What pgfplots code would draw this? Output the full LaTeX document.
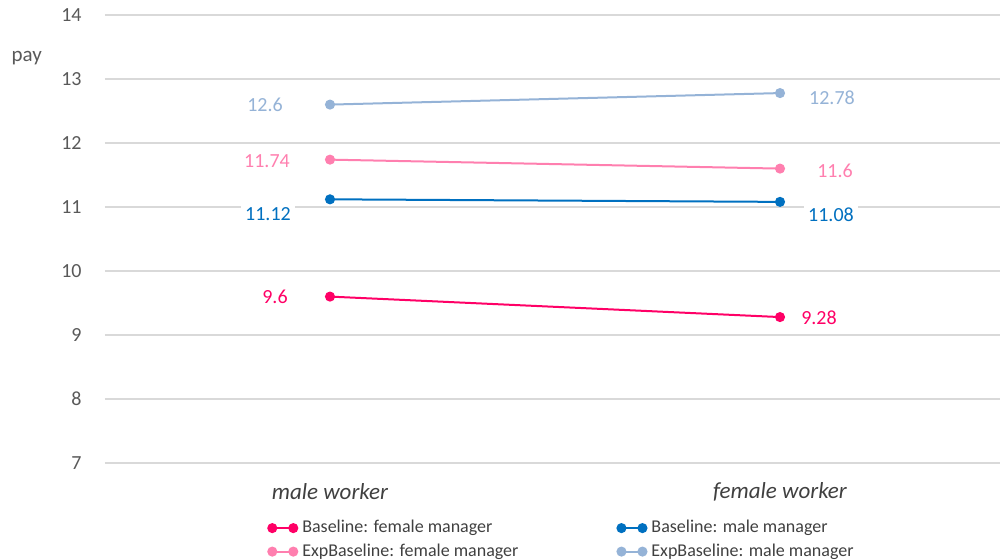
\documentclass[border=0pt]{standalone}
\usepackage{pgfplots}
\pgfplotsset{compat=1.18}
\usepackage{fontspec}
\setmainfont{Carlito}
\definecolor{bf}{HTML}{FF0066}
\definecolor{bm}{HTML}{0070C0}
\definecolor{ef}{HTML}{FF7FAF}
\definecolor{em}{HTML}{95B3D7}
\definecolor{txt}{HTML}{595959}
\definecolor{grd}{HTML}{D9D9D9}
\tikzset{lbl/.style={fill=white, inner sep=2pt, anchor=center, font=\fontsize{10}{12}\selectfont}}
\begin{document}
\begin{tikzpicture}
\useasboundingbox (-52.5pt,-48.5pt) rectangle (447.5pt,231.5pt);
\begin{axis}[
scale only axis, width=450pt, height=224pt,
at={(0,0)}, anchor=south west,
xmin=-0.5, xmax=1.5, ymin=7, ymax=14,
xtick={0,1}, xticklabels={\textit{male worker},\textit{female worker}},
ytick={7,...,14},
ymajorgrids, grid style={grd, line width=0.6pt},
axis line style={draw=none},
major tick length=0pt,
tick label style={font=\fontsize{10}{12}\selectfont, text=txt},
xticklabel style={anchor=center, yshift=-14.5pt, font=\fontsize{11.5}{13}\selectfont, text=black!75},
yticklabel style={anchor=east, inner sep=0pt, xshift=-11.5pt},
/pgf/number format/assume math mode=true,
ylabel=pay,
every axis y label/.style={at={(axis description cs:-0.087,0.904)}, anchor=center, font=\fontsize{10.5}{12}\selectfont, text=txt},
every axis plot/.append style={line width=1pt, mark=*, mark size=2pt},
legend columns=2,
legend cell align=left,
legend style={at={(axis description cs:0.181,-0.116)}, anchor=north west, draw=none, fill=none, inner sep=0pt,
  font=\fontsize{9}{10}\selectfont, text=black!75,
  nodes={inner sep=2.5pt},
  /tikz/every even column/.append style={column sep=47pt}, row sep=-1pt},
legend image code/.code={\draw[#1] plot coordinates {(0pt,0pt) (10.5pt,0pt)};},
]
\addplot[color=bf, mark options={fill=bf}] coordinates {(0,9.6) (1,9.28)};
\addlegendentry{Baseline: female manager}
\addplot[color=bm, mark options={fill=bm}] coordinates {(0,11.12) (1,11.08)};
\addlegendentry{Baseline: male manager}
\addplot[color=ef, mark options={fill=ef}] coordinates {(0,11.74) (1,11.6)};
\addlegendentry{ExpBaseline: female manager}
\addplot[color=em, mark options={fill=em}] coordinates {(0,12.6) (1,12.78)};
\addlegendentry{ExpBaseline: male manager}

\node[lbl, text=em, xshift=-32.5pt] at (axis cs:0,12.6) {12.6};
\node[lbl, text=ef, xshift=-31.5pt, yshift=-1pt] at (axis cs:0,11.74) {11.74};
\node[lbl, text=bm, xshift=-31pt, yshift=-7.5pt] at (axis cs:0,11.12) {11.12};
\node[lbl, text=bf, xshift=-27.5pt] at (axis cs:0,9.6) {9.6};
\node[lbl, text=em, xshift=26pt, yshift=-2.5pt] at (axis cs:1,12.78) {12.78};
\node[lbl, text=ef, xshift=27.5pt, yshift=-1pt] at (axis cs:1,11.6) {11.6};
\node[lbl, text=bm, xshift=25.5pt, yshift=-6.5pt] at (axis cs:1,11.08) {11.08};
\node[lbl, text=bf, xshift=19.5pt, yshift=-0.5pt] at (axis cs:1,9.28) {9.28};
\end{axis}
\end{tikzpicture}
\end{document}
